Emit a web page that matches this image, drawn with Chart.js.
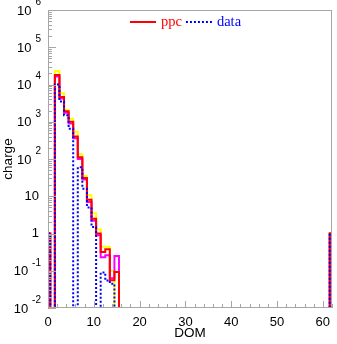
<!DOCTYPE html>
<html>
<head>
<meta charset="utf-8">
<script src="https://cdn.jsdelivr.net/npm/chart.js@4"></script>
<style>
  html, body { margin: 0; padding: 0; background: #fff; }
  #wrap { width: 337px; height: 344px; }
</style>
</head>
<body>
<div id="wrap"><canvas id="chargeChart" width="337" height="344"></canvas></div>
<script>
// DOM number of each bin; bins in between are empty
const dom = [0, 1, 2, 3, 4, 5, 6, 7, 8, 9, 10, 11, 12, 13, 14, 15, 16, 61, 62];

// charge per DOM
const ppc      = [1, 0, 18000, 4600, 1900, 1000, 400, 112, 31, 8, 2.5, 1.0, 0.32, 0.38, 0.056, 0.093, 0, 0, 1];
const ppcUpper = [1, 0, 23000, 5800, 2100, 1200, 540, 135, 35, 10.7, 3.5, 1.3, 0.44, 0.44, 0.1, 0, 0, 0, 1];
const ppcLower = [1, 0, 16500, 4200, 1750, 900, 360, 100, 28, 7, 2.2, 0.9, 0.23, 0.26, 0.063, 0.25, 0, 0, 1];
const measured = [1, 0, 10000, 3500, 1500, 650, 0, 60, 16, 5, 1.5, 0, 0.09, 0.055, 0.045, 0, 0, 0, 1];

const xTicks = [0, 10, 20, 30, 40, 50, 60];
const yExponents = [-2, -1, 0, 1, 2, 3, 4, 5, 6];

const axisGrey = '#a6a6a6';
const FLOOR = 1e-4; // empty bins drop below the bottom of the log axis

function toPoints(values) {
  return dom.map((d, i) => ({ x: d, y: values[i] > 0 ? values[i] : FLOOR }));
}

function histo(label, values, color, extra) {
  return Object.assign({
    label: label,
    data: toPoints(values),
    borderColor: color,
    backgroundColor: color,
    borderWidth: 2,
    stepped: 'middle',
    pointRadius: 0,
    fill: false,
    clip: 0
  }, extra || {});
}

// frame, inward ticks, tick labels and legend
const axesPlugin = {
  id: 'axes',
  afterDatasetsDraw(chart) {
    const { ctx, chartArea: a, scales: { x, y } } = chart;
    ctx.save();
    ctx.strokeStyle = axisGrey;
    ctx.lineWidth = 1;
    ctx.strokeRect(a.left + 0.5, a.top + 0.5, a.right - a.left - 1, a.bottom - a.top - 1);

    ctx.beginPath();
    // y ticks: decades long, 2..9 short
    for (let e = -2; e <= 6; e++) {
      const py = Math.round(y.getPixelForValue(Math.pow(10, e))) + 0.5;
      ctx.moveTo(a.left, py); ctx.lineTo(a.left + 8, py);
      if (e < 6) {
        for (let m = 2; m <= 9; m++) {
          const pm = Math.round(y.getPixelForValue(m * Math.pow(10, e))) + 0.5;
          ctx.moveTo(a.left, pm); ctx.lineTo(a.left + 4, pm);
        }
      }
    }
    // x ticks: every 10 long, every 2 short
    for (let v = 0; v <= 62; v += 2) {
      const px = Math.round(x.getPixelForValue(v)) + 0.5;
      const len = v % 10 === 0 ? 7 : 4;
      ctx.moveTo(px, a.bottom); ctx.lineTo(px, a.bottom - len);
    }
    ctx.stroke();

    ctx.fillStyle = '#000';
    ctx.font = '13px "Liberation Sans", Arial, sans-serif';
    ctx.textBaseline = 'middle';
    ctx.textAlign = 'center';
    xTicks.forEach(v => ctx.fillText(String(v), x.getPixelForValue(v), a.bottom + 14));

    const labelRight = a.left - 7;
    yExponents.forEach(e => {
      const py = y.getPixelForValue(Math.pow(10, e));
      ctx.font = '13px "Liberation Sans", Arial, sans-serif';
      ctx.textAlign = 'right';
      if (e === 0 || e === 1) {
        ctx.fillText(e === 0 ? '1' : '10', labelRight - 2, py);
        return;
      }
      const exp = String(e);
      ctx.font = '10px "Liberation Sans", Arial, sans-serif';
      const w = ctx.measureText(exp).width;
      ctx.fillText(exp, labelRight, py - 8);
      ctx.font = '13px "Liberation Sans", Arial, sans-serif';
      ctx.fillText('10', labelRight - w - 4, py + 1);
    });

    // legend for the labelled histograms
    ctx.font = '14.5px "Liberation Serif", "Times New Roman", serif';
    ctx.textAlign = 'left';
    let lx = 130;
    const ly = 22;
    chart.data.datasets.filter(ds => ds.inLegend).reverse().forEach(ds => {
      ctx.strokeStyle = ds.borderColor;
      ctx.lineWidth = 2;
      ctx.setLineDash(ds.borderDash || []);
      ctx.beginPath();
      ctx.moveTo(lx, ly); ctx.lineTo(lx + 26, ly);
      ctx.stroke();
      ctx.setLineDash([]);
      ctx.fillStyle = ds.borderColor;
      ctx.fillText(ds.label, lx + 31, ly);
      lx += 31 + ctx.measureText(ds.label).width + 4;
    });
    ctx.restore();
  }
};

new Chart(document.getElementById('chargeChart'), {
  type: 'line',
  data: {
    datasets: [
      histo('data', measured, '#0000ff', { borderDash: [2, 2], inLegend: true }),
      histo('ppc', ppc, '#ff0000', { inLegend: true }),
      histo('ppc low', ppcLower, '#ff00ff'),
      histo('ppc high', ppcUpper, '#ffff00')
    ]
  },
  options: {
    responsive: false,
    animation: false,
    devicePixelRatio: 1,
    layout: { padding: { top: 10, right: 5, left: 0, bottom: 0 } },
    plugins: { legend: { display: false }, tooltip: { enabled: false } },
    scales: {
      x: {
        type: 'linear',
        min: 0,
        max: 62,
        grid: { display: false },
        border: { display: false },
        ticks: { display: false },
        title: {
          display: true,
          text: 'DOM',
          color: '#000',
          font: { family: '"Liberation Sans", Arial, sans-serif', size: 13.5 },
          padding: { top: 0, bottom: 3 }
        },
        afterFit(scale) { scale.height = 36; }
      },
      y: {
        type: 'logarithmic',
        min: 1e-2,
        max: 1e6,
        grid: { display: false },
        border: { display: false },
        ticks: { display: false },
        title: {
          display: true,
          text: 'charge',
          color: '#000',
          font: { family: '"Liberation Sans", Arial, sans-serif', size: 13.5 },
          padding: { top: 0, bottom: 0 }
        },
        afterFit(scale) { scale.width = 48; }
      }
    }
  },
  plugins: [axesPlugin]
});
</script>
</body>
</html>
